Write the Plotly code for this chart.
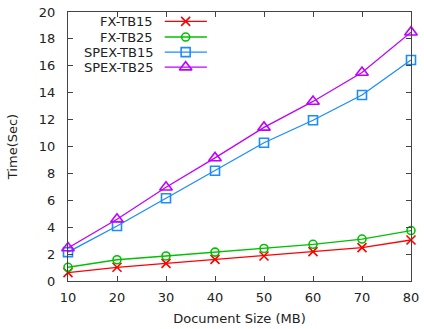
import plotly.graph_objects as go

sizes_mb = [10, 20, 30, 40, 50, 60, 70, 80]
fx_tb15 = [0.62, 1.02, 1.31, 1.61, 1.86, 2.18, 2.48, 3.05]
fx_tb25 = [1.02, 1.58, 1.86, 2.15, 2.42, 2.73, 3.12, 3.75]
spex_tb15 = [2.15, 4.09, 6.15, 8.2, 10.28, 11.95, 13.83, 16.43]
spex_tb25 = [2.45, 4.59, 6.97, 9.15, 11.42, 13.35, 15.5, 18.5]

series_names = ["FX-TB15", "FX-TB25", "SPEX-TB15", "SPEX-TB25"]
series_values = [fx_tb15, fx_tb25, spex_tb15, spex_tb25]
colors = ["#ff0000", "#00c000", "#1a8cff", "#c000ff"]
symbols = ["x-thin-open", "circle-open", "square-open", "triangle-up-open"]
msizes = [9, 8, 9, 11]

font = "DejaVu Sans"
fsize = 13
fig = go.Figure()

for name, vals, c, s, ms in zip(series_names, series_values, colors, symbols, msizes):
    fig.add_trace(go.Scatter(
        x=sizes_mb, y=vals, mode="lines+markers", name=name,
        line=dict(color=c, width=1.3),
        marker=dict(symbol=s, size=ms, color=c, line=dict(color=c, width=1.6)),
        cliponaxis=False, showlegend=False,
    ))

# gnuplot-style legend: text right-aligned, sample line + marker to its right
leg_y = [0.965, 0.907, 0.851, 0.795]
for i, (name, c, s, ms) in enumerate(zip(series_names, colors, symbols, msizes)):
    fig.add_trace(go.Scatter(
        x=[0.282, 0.343, 0.405], y=[leg_y[i]] * 3, xaxis="x2", yaxis="y2",
        mode="lines+markers", line=dict(color=c, width=1.3),
        marker=dict(symbol=s, size=ms, color=c, line=dict(color=c, width=1.6),
                    opacity=[0, 1, 0]),
        showlegend=False, hoverinfo="skip", cliponaxis=False,
    ))
    fig.add_annotation(x=0.254, y=leg_y[i], xref="x2", yref="y2", text=name,
                       showarrow=False, xanchor="right", yanchor="middle",
                       font=dict(family=font, size=fsize, color="#222"))

axis_common = dict(
    showline=True, linecolor="#444", linewidth=1, mirror="allticks",
    ticks="inside", ticklen=5, tickcolor="#444", tickwidth=1,
    showgrid=False, zeroline=False, ticklabeloverflow="allow",
    tickfont=dict(family=font, size=fsize, color="#222"),
)

fig.update_layout(
    width=424, height=329,
    margin=dict(l=68, r=5, t=12, b=48),
    paper_bgcolor="white", plot_bgcolor="white",
    xaxis=dict(range=[10, 80], tickvals=sizes_mb, ticklabelstandoff=4,
               title=dict(text="Document Size (MB)", font=dict(family=font, size=fsize, color="#222"), standoff=10),
               **axis_common),
    yaxis=dict(range=[0, 20], dtick=2, ticklabelstandoff=9,
               title=dict(text="Time(Sec)", font=dict(family=font, size=fsize, color="#222"), standoff=18),
               **axis_common),
    xaxis2=dict(range=[0, 1], overlaying="x", visible=False, fixedrange=True),
    yaxis2=dict(range=[0, 1], overlaying="y", visible=False, fixedrange=True),
    showlegend=False,
)

fig.write_html("out.html")
